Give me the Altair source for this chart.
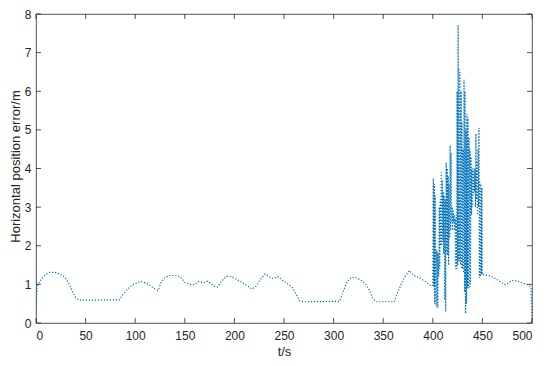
import altair as alt
import pandas as pd

# ---- data ----
t_smooth_a = [0, 0.5, 1, 2, 4, 7, 10, 14, 19, 24, 28, 31, 34, 37, 40, 43, 46, 84, 86, 89,
              94, 98, 102, 106, 111, 116, 121, 123, 126, 130, 135, 143, 147, 150, 154, 159,
              164, 169, 173, 177, 181, 183, 187, 192, 197, 202, 208, 213, 218, 221, 226,
              231, 235, 239, 244, 251, 258, 262, 266, 270, 306, 309, 313, 318, 323, 328,
              332, 336, 340, 343, 361, 364, 368, 372, 376, 381, 388, 397]
v_smooth_a = [0.34, 0.6, 0.9, 1.0, 1.08, 1.18, 1.26, 1.31, 1.31, 1.27, 1.2, 1.12, 0.98, 0.8,
              0.66, 0.6, 0.59, 0.6, 0.68, 0.78, 0.92, 1.0, 1.04, 1.08, 1.03, 0.95, 0.86, 0.84,
              1.05, 1.18, 1.23, 1.23, 1.15, 1.05, 1.0, 0.99, 1.07, 1.04, 1.08, 1.01, 0.94,
              0.93, 1.08, 1.21, 1.2, 1.13, 1.05, 0.96, 0.88, 0.93, 1.12, 1.27, 1.2, 1.15,
              1.2, 1.06, 0.93, 0.75, 0.57, 0.55, 0.56, 0.76, 1.05, 1.18, 1.17, 1.1, 1.02,
              0.85, 0.62, 0.55, 0.55, 0.75, 1.0, 1.2, 1.36, 1.23, 1.15, 0.98]

t_burst = [400.0, 400.5, 401.0, 401.5, 402.0, 402.5, 403.0, 403.5, 404.0, 404.5, 405.0,
           405.5, 406.0, 406.5, 407.0, 407.5, 408.0, 408.5, 409.0, 409.5, 410.0, 410.5,
           411.0, 411.5, 412.0, 412.5, 413.0, 413.5, 414.0, 414.5, 415.0, 415.5, 416.0,
           416.5, 417.0, 417.5, 418.0, 418.5, 419.0, 419.5, 420.0, 420.5, 421.0, 421.5,
           422.0, 422.5, 423.0, 423.5, 424.0, 424.5, 425.0, 425.5, 426.0, 426.5, 427.0,
           427.5, 428.0, 428.5, 429.0, 429.5, 430.0, 430.5, 431.0, 431.5, 432.0, 432.5,
           433.0, 433.5, 434.0, 434.5, 435.0, 435.5, 436.0, 436.5, 437.0, 437.5, 438.0,
           438.5, 439.0, 439.5, 440.0, 440.5, 441.0, 441.5, 442.0, 442.5, 443.0, 443.5,
           444.0, 444.5, 445.0, 445.5, 446.0, 446.5, 447.0, 447.5, 448.0, 448.5, 449.0,
           449.5, 450.0]
v_burst = [0.97, 3.75, 0.95, 3.6, 0.5, 3.3, 0.45, 1.9, 0.4, 1.85, 0.38,
           1.8, 1.2, 3.0, 1.4, 3.2, 2.0, 3.9, 2.0, 3.7, 2.1, 3.4,
           1.8, 3.3, 0.6, 3.2, 0.3, 4.15, 1.8, 4.0, 1.75, 3.8, 1.5,
           3.6, 2.2, 4.6, 2.4, 4.4, 2.6, 3.0, 2.4, 2.9, 2.6, 2.8,
           2.4, 2.7, 1.4, 2.8, 1.4, 6.0, 1.5, 7.72, 1.6, 6.6, 1.6,
           6.5, 1.5, 6.0, 1.4, 5.2, 1.4, 4.5, 1.3, 6.3, 0.8, 6.0,
           0.25, 5.0, 0.5, 5.4, 0.9, 5.3, 0.9, 4.8, 0.9, 4.5, 1.0,
           4.3, 2.8, 4.0, 3.0, 4.0, 3.3, 4.0, 3.4, 4.0, 3.0, 4.9,
           3.2, 4.2, 2.8, 4.5, 3.0, 5.05, 1.17, 3.65, 1.2, 3.6, 1.25,
           3.5, 1.25]

t_smooth_b = [451, 458, 465, 473, 480, 486, 492, 497, 499, 500]
v_smooth_b = [1.25, 1.22, 1.12, 0.99, 1.1, 1.08, 1.02, 0.97, 0.9, 0.0]

x_ticks = [0, 50, 100, 150, 200, 250, 300, 350, 400, 450, 500]
y_ticks = [0, 1, 2, 3, 4, 5, 6, 7, 8]

t_all = t_smooth_a + t_burst + t_smooth_b
v_all = v_smooth_a + v_burst + v_smooth_b
df = pd.DataFrame({"t": t_all, "v": v_all, "order": list(range(len(t_all)))})
dfx = pd.DataFrame({"t": x_ticks})
dfy = pd.DataFrame({"v": y_ticks})

W, H = 496, 309
FONT = "Liberation Sans"
INK = "#262626"
TICK = 5

xscale = alt.Scale(domain=[0, 500], nice=False, zero=False)
yscale = alt.Scale(domain=[0, 8], nice=False, zero=False)

xaxis = alt.Axis(values=x_ticks, grid=False, domain=False, ticks=False, labelOverlap=False,
                 labelPadding=7, labelFontSize=12, labelFont=FONT, labelColor=INK,
                 title="t/s", titleFontSize=13, titleFont=FONT, titleColor=INK,
                 titleFontWeight="normal", titleBaseline="alphabetic", titleY=32)
yaxis = alt.Axis(values=y_ticks, grid=False, domain=False, ticks=False, labelOverlap=False,
                 labelPadding=5, labelFontSize=12, labelFont=FONT, labelColor=INK,
                 title="Horizontal position error/m", titleFontSize=13, titleFont=FONT,
                 titleColor=INK, titleFontWeight="normal", titleX=-14, titleY=152)

X = alt.X("t:Q", scale=xscale, axis=xaxis)
Y = alt.Y("v:Q", scale=yscale, axis=yaxis)

line = alt.Chart(df).mark_line(
    color="#0072BD", strokeWidth=1.2, strokeDash=[1.2, 1.8], clip=True
).encode(x=X, y=Y, order="order:Q")

tick_style = dict(color=INK, strokeWidth=0.8)
xt_bottom = alt.Chart(dfx).mark_rule(**tick_style).encode(
    x=X, y=alt.value(H), y2=alt.value(H - TICK))
xt_top = alt.Chart(dfx).mark_rule(**tick_style).encode(
    x=X, y=alt.value(0), y2=alt.value(TICK))
yt_left = alt.Chart(dfy).mark_rule(**tick_style).encode(
    y=Y, x=alt.value(0), x2=alt.value(TICK))
yt_right = alt.Chart(dfy).mark_rule(**tick_style).encode(
    y=Y, x=alt.value(W), x2=alt.value(W - TICK))

chart = alt.layer(line, xt_bottom, xt_top, yt_left, yt_right).properties(
    width=W, height=H,
    autosize=alt.AutoSizeParams(type="none"),
    padding={"left": 28, "top": 6, "right": 10, "bottom": 35},
    background="white",
).configure_view(stroke=INK, strokeWidth=0.8)

chart.save("out.html", embed_options={"renderer": "svg", "actions": False})
